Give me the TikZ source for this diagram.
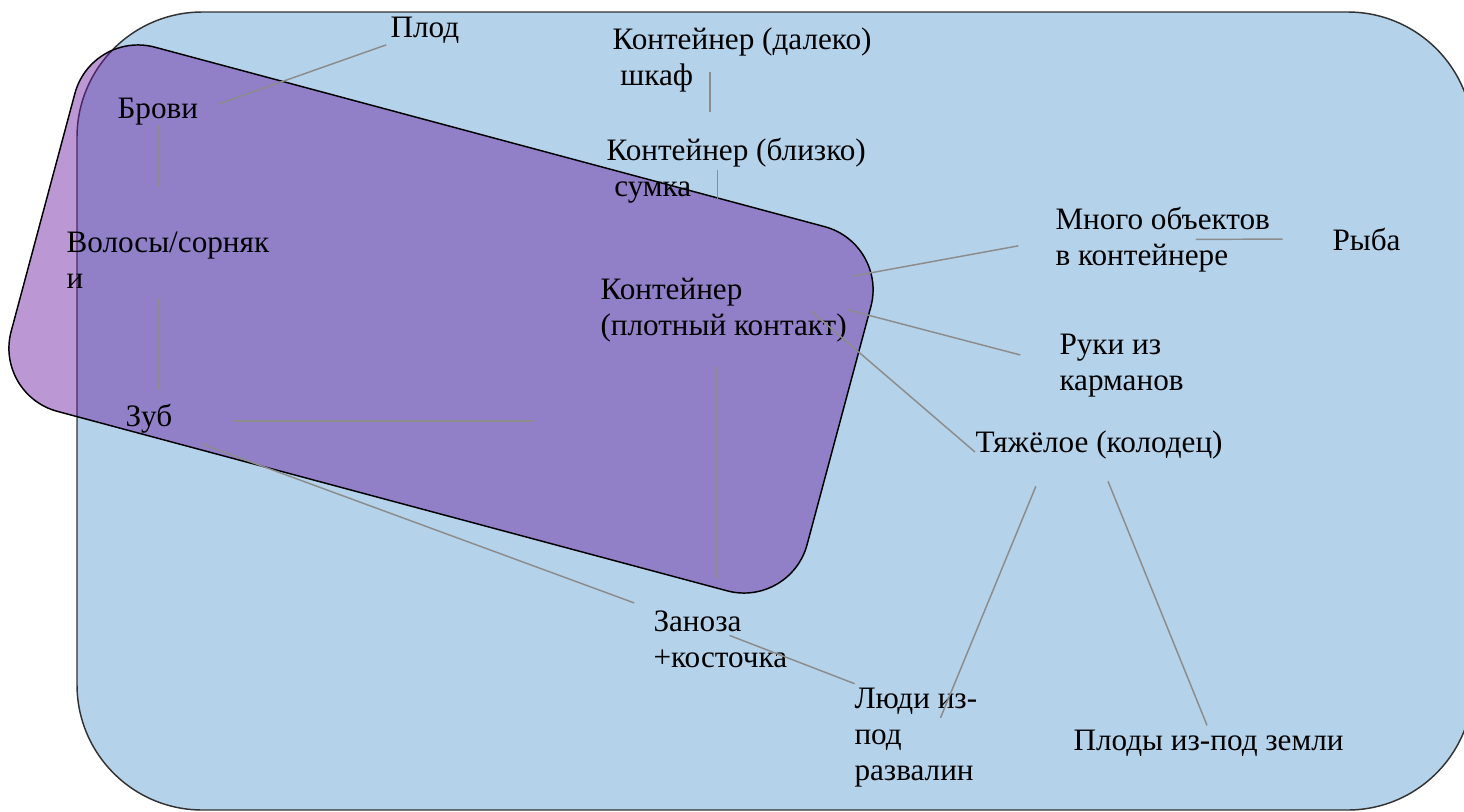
\documentclass[tikz,border=0pt]{standalone}
\usepackage{fontspec}
\setmainfont{Liberation Serif}
\usepackage{tikz}
\tikzset{every picture/.style={line width=0.75pt}}

\definecolor{setblue}{RGB}{180,210,234}
\definecolor{setpurple}{RGB}{104,27,160}
\definecolor{linkgray}{RGB}{140,140,140}
\tikzset{
  lbl/.style={anchor=base west, inner sep=0pt, align=left, font=\fontsize{23.4}{27}\selectfont},
  link/.style={draw=linkgray, line width=1.1pt},
}

\begin{document}
\begin{tikzpicture}[x=0.75pt,y=0.75pt,yscale=-1,xscale=1]
\useasboundingbox (0,0) rectangle (1464,811);

%Shape: Rounded Rect (big set)
\draw [draw=black!80, fill=setblue, line width=1.1pt, rounded corners=94pt] (77,12) rectangle (1473,810);
%Shape: Rounded Rect, rotated (small set)
\draw [fill=setpurple, fill opacity=0.45, line width=1.1pt, rounded corners=49pt, shift={(441,319)}, rotate=15] (-412,-188.5) rectangle (412,188.5);

% Text Node
\node (plod) at (390,37) [lbl] {Плод};
% Text Node
\node (brovi) at (117,118) [lbl] {Брови};
% Text Node
\node (volosy) at (66,288) [lbl] {Волосы/сорняк\\и};
% Text Node
\node (zub) at (125,426) [lbl] {Зуб};
% Text Node
\node (far) at (612,85) [lbl] {Контейнер (далеко)\\\hspace*{0.25em}шкаф};
% Text Node
\node (near) at (606,196) [lbl] {Контейнер (близко)\\\hspace*{0.25em}сумка};
% Text Node
\node (tight) at (600,335) [lbl] {Контейнер\\(плотный контакт)};
% Text Node
\node (many) at (1055,265) [lbl] {Много объектов\\в контейнере};
% Text Node
\node (fish) at (1332,250) [lbl] {Рыба};
% Text Node
\node (hands) at (1059,390) [lbl] {Руки из\\карманов};
% Text Node
\node (heavy) at (975,452) [lbl] {Тяжёлое (колодец)};
% Text Node
\node (splinter) at (653,667) [lbl] {Заноза\\+косточка};
% Text Node
\node (people) at (854,780) [lbl] {Люди из-\\под\\развалин};
% Text Node
\node (fruits) at (1073,750) [lbl] {Плоды из-под земли};
\coordinate (zubend) at (533,421);

%Straight Lines
\draw [link, shorten <=16pt, shorten >=3pt] (brovi.east) -- (plod.south west);
\draw [link, shorten >=33pt] (brovi.south) -- (brovi.south |- volosy.north);
\draw [link, shorten <=7pt, shorten >=10pt] (volosy.south -| brovi.south) -- (zub.north -| brovi.south);
\draw [link, shorten <=46pt] (zub.east |- zubend) -- (zubend);
\draw [link, shorten <=23pt, shorten >=15pt] (zub.south east) -- (splinter.north west);
\draw [link, shorten <=-15pt, shorten >=19pt] ([xshift=-24pt]far.south) -- ([xshift=-24pt]far.south |- near.north);
\draw [link, shorten <=-25pt, shorten >=7pt] ([xshift=-14pt]near.south) -- ([xshift=-14pt]near.south |- tight.north);
\draw [link, shorten <=19pt, shorten >=24pt] ([xshift=-5pt]tight.south) -- ([xshift=-5pt]tight.south |- splinter.north);
\draw [link, shorten <=4pt, shorten >=28pt] (tight.north east) -- (many.west);
\draw [link, shorten <=0pt, shorten >=30pt] (tight.east) -- (hands.west);
\draw [link, shorten <=-36pt] (tight.south east) -- (heavy.base west);
\draw [link, shorten <=-56pt, shorten >=37pt] (many.east) -- (fish.west);
\draw [link, shorten <=22pt, shorten >=-25pt] ([xshift=-39pt]heavy.south) -- ([xshift=28pt]people.north);
\draw [link, shorten <=18pt, shorten >=3pt] (heavy.south) -- (fruits.north);
\draw [link, shorten <=-7pt, shorten >=7pt] ([xshift=-37pt]splinter.east) -- ([xshift=7pt]people.north west);

\end{tikzpicture}
\end{document}
